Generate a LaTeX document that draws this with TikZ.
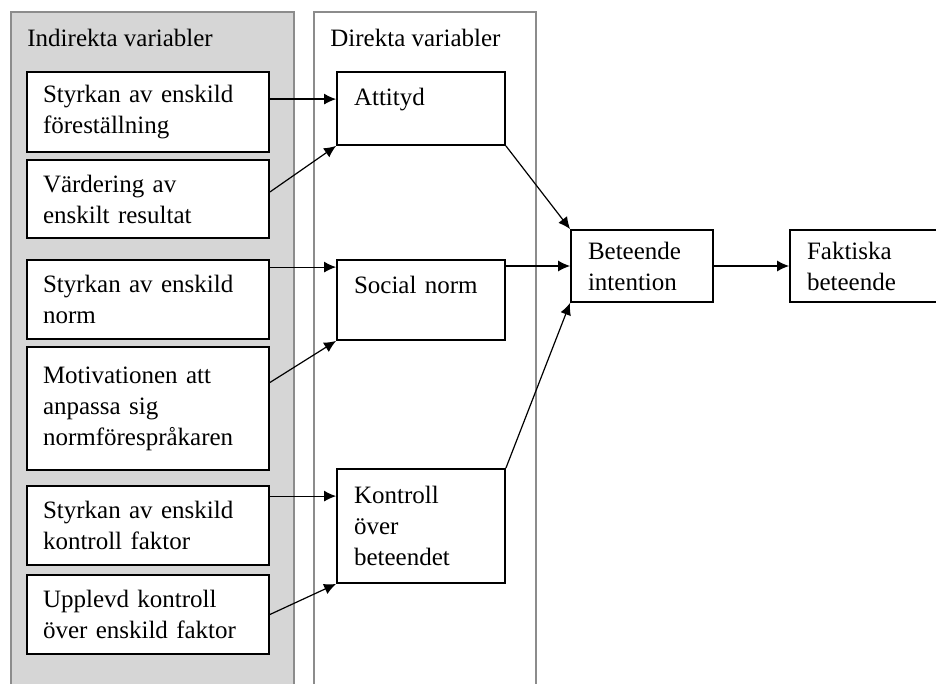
\documentclass[tikz,border=0pt]{standalone}
\usepackage{fontspec}
\setmainfont{Liberation Serif}
\usepackage{xcolor}
\usepackage{tikz}
\usetikzlibrary{arrows.meta}

\definecolor{panelgray}{HTML}{D6D6D6}
\definecolor{panelline}{HTML}{8C8C8C}

\tikzset{
  panel/.style={draw=panelline, line width=1pt},
  paneltitle/.style={anchor=west, inner sep=0pt, font=\fontsize{12.5}{15.5}\selectfont},
  varbox/.style={draw, line width=0.9pt, fill=white, align=left, inner xsep=8pt, inner ysep=0pt,
    font=\fontsize{12.5}{15.5}\selectfont},
  indbox/.style={varbox, text width=105pt},
  dirbox/.style={varbox, text width=67pt, inner xsep=8.5pt},
  outbox/.style={varbox, text width=54pt, inner xsep=8.5pt},
  link/.style={->, line width=0.6pt}
}

\begin{document}
\begin{tikzpicture}[x=0.5pt, y=-0.5pt, >={Latex[length=6pt,width=5.5pt]}]
          \useasboundingbox (0,0) rectangle (936,684);
          \clip (0,0) rectangle (936,684);

          % panels
          \fill[panelgray] (11,12) rectangle (294,690);
          \draw[panel] (11,690) |- (294,12) -- (294,690);
          \draw[panel] (314,690) |- (536,12) -- (536,690);
          \node[paneltitle] (indtitle) at (27,38) {Indirekta variabler};
          \node[paneltitle] (dirtitle) at (330,38) {Direkta variabler};

          % indirekta
          \node[indbox, minimum height=40pt] (strofor) at (148,112) {Styrkan av enskild\\föreställning};
          \node[indbox, minimum height=39pt] (varres) at (148,199) {Värdering av\\enskilt resultat};
          \node[indbox, minimum height=39.5pt] (stronorm) at (148,299.5) {Styrkan av enskild\\norm};
          \node[indbox, minimum height=61.5pt] (motiv) at (148,408.5) {Motivationen att\\anpassa sig\\normförespråkaren};
          \node[indbox, minimum height=39.5pt] (strokon) at (148,525.5) {Styrkan av enskild\\kontroll faktor};
          \node[indbox, minimum height=39.5pt] (upplev) at (148,614.5) {Upplevd kontroll\\över enskild faktor};

          % direkta
          \node[dirbox, minimum height=36.5pt] (attityd) at (421,108.5) {Attityd\\[-4pt]\mbox{}};
          \node[dirbox, minimum height=40pt] (social) at (421,300) {Social norm\\\mbox{}};
          \node[dirbox, minimum height=57pt] (kontroll) at (421,526) {Kontroll\\över\\beteendet};

          \node[outbox, minimum height=36pt] (intention) at (642,266) {Beteende\\intention};
          \node[varbox, text width=70pt, inner xsep=8.5pt, minimum height=36pt] (faktiska) at (877,266) {Faktiska\\beteende};

          \coordinate (attin) at ([yshift=-14pt]attityd.north west);
          \coordinate (socin) at ([yshift=-4pt]social.north west);
          \coordinate (konin) at ([yshift=-14pt]kontroll.north west);

          \draw[link] (strofor.east |- attin) -- (attin);
          \draw[link] ([yshift=3.5pt]varres.east) -- (attityd.south west);
          \draw[link] (stronorm.east |- socin) -- (socin);
          \draw[link] ([yshift=13pt]motiv.east) -- (social.south west);
          \draw[link] (strokon.east |- konin) -- (konin);
          \draw[link] (upplev.east) -- (kontroll.south west);
          \draw[link] (attityd.south east) -- (intention.north west);
          \draw[link] (social.east |- intention.west) -- (intention.west);
          \draw[link] (kontroll.north east) -- (intention.south west);
          \draw[link] (intention) -- (faktiska);
        \end{tikzpicture}
\end{document}
